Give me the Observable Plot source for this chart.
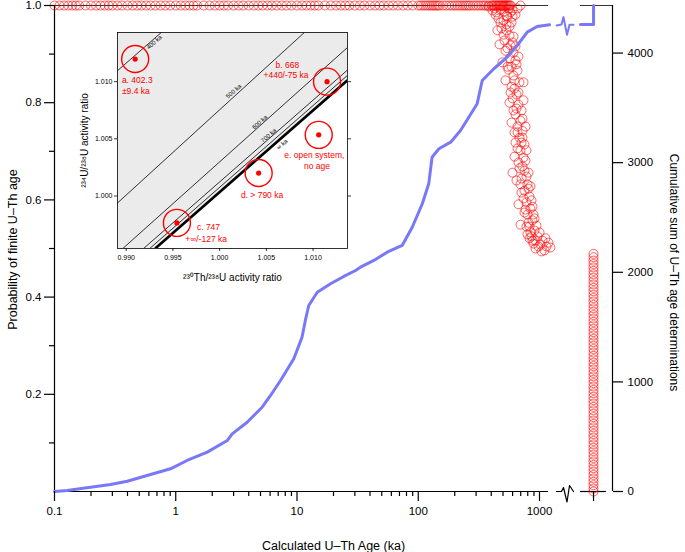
<!DOCTYPE html>
<html><head><meta charset="utf-8">
<script src="https://cdn.jsdelivr.net/npm/d3@7"></script>
<script src="https://cdn.jsdelivr.net/npm/@observablehq/plot@0.6"></script>
<style>
body{margin:0;background:#fff;}
#wrap{position:relative;width:685px;height:552px;overflow:hidden;background:#fff;}
#inset{position:absolute;left:69px;top:22px;}
</style></head><body><div id="wrap"><div id="inset"></div></div>
<script>
const FONT = "'Liberation Sans', Arial, Helvetica, sans-serif";
const RED = "#ff0000";
const BLUE = "#7878f8";

// ---- main chart data ----
// cumulative sum of finite U-Th ages (blue line)
const cumAge = [0.1, 0.127, 0.198, 0.29, 0.398, 0.58, 0.905, 1.24, 1.82, 2.66, 2.92, 3.88, 5.16, 6.05, 7.31, 9.41, 11.0, 11.8, 12.5, 14.7, 18.9, 24.3, 30.4, 33.4, 43.0, 55.4, 73.7, 89.2, 108, 122, 130, 148, 185, 223, 261, 306, 337, 420, 542, 655, 792, 957, 1209];
const cumCount = [0, 9, 39, 64, 94, 146, 207, 283, 359, 465, 526, 632, 769, 876, 1013, 1211, 1408, 1576, 1697, 1818, 1895, 1962, 2016, 2047, 2108, 2183, 2245, 2411, 2625, 2807, 3050, 3127, 3187, 3294, 3415, 3537, 3750, 3857, 3963, 4069, 4191, 4243, 4258];
const COUNT_MAX = 4434;          // top of right axis
const COUNT_FINITE = 4261;       // plateau before the break
const COUNT_TOTAL = 4434;        // including infinite ages

// positions on the broken log axis (ka)
const X_MIN = 0.1, X_MAX = 4000;
const BREAK_L = 1186, BREAK_R = 2178, AXIS_END = 3560, INF_POS = 2790;

// axis break squiggle (ka, probability offset)
const sqAge = [1381, 1519, 1577, 1686, 1768, 1907];
const sqAxisY = [0, 0, 0.0082, -0.0216, 0.0123, 0];
const sqBlueCount = [4252, 4261, 4328, 4167, 4258, 4258];

// red circles: probability of finite age
const topAges = [0.10,0.11,0.12,0.13,0.14,0.15,0.16,0.18,0.2,0.22,0.24,0.26,0.28,0.3,0.33,0.36,0.4,0.44,0.48,0.52,0.57,0.62,0.68,0.75,0.82,0.9,1.0,1.1,1.2,1.3,1.4,1.5,1.7,1.9,2.1,2.3,2.5,2.7,3.0,3.3,3.6,4.0,4.4,4.8,5.2,5.7,6.2,6.8,7.5,8.2,9.0,10,11,12,13,14,15,17,19,21,23,25,27,30,33,36,40,44,48,52,57,62,68,75,82,90,100,105,110,115,120,125,130,135,140,145,150,160,170,180,190,200,210,220,230,240,250,260,270,285,300,315,330,345,360,380,400,410,420,430,440,450,460,470,480,490,500,510,520,530,540,550,560,570,580];
const cloudAge = [410,442,477,514,555,599,634,459,505,545,588,486,534,566,514,599,545,610,566,634,588,659,610,684,622,738,646,599,671,711,634,697,659,724,684,752,697,738,671,599,752,711,796,752,827,781,843,796,876,827,909,859,927,1019,1186,1100,981,892,
  534,577,555,622,577,646,724,622,711,659,767,724,697,781,738,812,767,859,812,892,843,945,876,963,1059,1142,1039,671,505,599,
  477,566,450,610,468,524,634,495,545,646,524,588,671,566,610,738,588,659,767,634,724,622,781,684,646,812,711,843,671,752,876,781,909,827,1000,927,1121,1232,796,697,
  380,426,505,577,659,697,534,434];
const cloudProb = [0.990,0.986,0.992,0.988,0.994,0.990,0.981,0.973,0.969,0.977,0.965,0.953,0.949,0.938,0.928,0.924,0.912,0.903,0.891,0.887,0.874,0.866,0.856,0.842,0.829,0.842,0.817,0.809,0.796,0.784,0.776,0.763,0.751,0.742,0.728,0.714,0.702,0.687,0.677,0.656,0.660,0.644,0.632,0.619,0.607,0.595,0.582,0.570,0.558,0.545,0.537,0.525,0.516,0.508,0.512,0.496,0.504,0.510,
  0.961,0.918,0.868,0.846,0.821,0.788,0.767,0.739,0.718,0.706,0.681,0.669,0.632,0.648,0.603,0.623,0.580,0.599,0.553,0.570,0.533,0.547,0.516,0.525,0.516,0.504,0.494,0.895,0.940,0.977,
  0.965,0.957,0.949,0.936,0.920,0.907,0.916,0.883,0.874,0.879,0.846,0.833,0.821,0.800,0.784,0.805,0.759,0.739,0.751,0.718,0.728,0.689,0.702,0.665,0.640,0.656,0.615,0.628,0.591,0.574,0.586,0.545,0.562,0.521,0.533,0.500,0.521,0.502,0.529,0.549,
  0.998,0.994,0.998,0.986,0.994,1.000,0.979,0.981];
const infProb = [0.000,0.006,0.013,0.020,0.027,0.034,0.041,0.048,0.055,0.062,0.069,0.076,0.083,0.090,0.097,0.104,0.111,0.118,0.125,0.132,0.139,0.146,0.153,0.160,0.167,0.174,0.181,0.188,0.195,0.202,0.209,0.216,0.223,0.230,0.237,0.244,0.251,0.258,0.265,0.272,0.279,0.286,0.293,0.300,0.307,0.314,0.321,0.328,0.335,0.342,0.349,0.356,0.363,0.370,0.377,0.384,0.391,0.398,0.405,0.412,0.419,0.426,0.433,0.440,0.447,0.454,0.461,0.468,0.475,0.482,0.489];

// tick values
const xMajor = [0.1, 1, 10, 100, 1000];
const xMinor = [0.2,0.3,0.4,0.5,0.6,0.7,0.8,0.9,2,3,4,5,6,7,8,9,20,30,40,50,60,70,80,90,200,300,400,500,600,700,800,900];
const yMajor = [0.2, 0.4, 0.6, 0.8, 1.0];
const yMinor = [0.1, 0.3, 0.5, 0.7, 0.9];
const countTicks = [0, 1000, 2000, 3000, 4000];

// ---- inset data ----
const insetXTicks = [0.990, 0.995, 1.000, 1.005, 1.010];
const insetYTicks = [1.000, 1.005, 1.010];
const eqLineX = [0.98907, 1.01369];
const eqLineY = [0.99252, 1.01012];
const isoLabel = ["400 ka", "500 ka", "600 ka", "700 ka", "", "∞ ka"];
const isoX1 = [0.98907, 0.98907, 0.98964, 0.99186, 0.99252, 0.99311];
const isoY1 = [1.01096, 0.99939, 0.99541, 0.99541, 0.99541, 0.99541];
const isoX2 = [0.99375, 1.00907, 1.01369, 1.01369, 1.01369, 1.01369];
const isoY2 = [1.01430, 1.01430, 1.01299, 1.01102, 1.01055, 1.01012];
const isoWidth = [0.8, 0.8, 0.8, 0.8, 0.8, 2.6];
const isoLabX = [0.99300, 1.00150, 1.00429, 1.00525, 0, 1.00668];
const isoLabY = [1.01345, 1.00916, 1.00645, 1.00529, 0, 1.00451];
const sampleX = [0.99096, 1.01150, 0.99543, 1.00418, 1.01061];
const sampleY = [1.01198, 1.01000, 0.99765, 1.00201, 1.00535];
const noteText = ["a. 402.3", "±9.4 ka", "b. 668", "+440/-75 ka", "c. 747", "+∞/-127 ka", "d. > 790 ka", "e. open system,", "no age"];
const noteX = [0.98954, 0.98954, 1.00725, 1.00711, 0.99757, 0.99632, 1.00454, 1.01014, 1.01043];
const noteY = [1.01009, 1.00913, 1.01140, 1.01052, 0.99724, 0.99622, 1.00006, 1.00355, 1.00259];
const noteAnchor = ["start", "start", "middle", "middle", "start", "start", "middle", "middle", "middle"];

// ---- build main plot ----
const blue = cumAge.map((a, i) => ({age: a, c: cumCount[i]}));
const blueAfter = [{age: BREAK_R, c: COUNT_FINITE}, {age: INF_POS, c: COUNT_FINITE}, {age: INF_POS, c: COUNT_TOTAL}];
const sqAxis = sqAge.map((a, i) => ({age: a, p: sqAxisY[i]}));
const sqBlue = sqAge.map((a, i) => ({age: a, c: sqBlueCount[i]}));
const topDots = topAges.map(a => ({age: a, p: 1}));
const cloud = cloudAge.map((a, i) => ({age: a, p: cloudProb[i]}));
const infDots = infProb.map(p => ({age: INF_POS, p}));
const allRed = topDots.concat(cloud, infDots);

const main = Plot.plot({
  width: 685, height: 552,
  marginLeft: 54, marginRight: 73, marginTop: 5, marginBottom: 61,
  style: {fontFamily: FONT, fontSize: "11.5px", color: "black", background: "white", overflow: "visible"},
  x: {type: "log", domain: [X_MIN, X_MAX]},
  y: {domain: [0, 1]},
  marks: [
    // frame pieces
    Plot.ruleY([0], {x1: X_MIN, x2: BREAK_L, stroke: "black", strokeWidth: 1.2}),
    Plot.ruleY([0], {x1: BREAK_R, x2: AXIS_END, stroke: "black", strokeWidth: 1.2}),
    Plot.ruleY([1], {x1: X_MIN, x2: BREAK_L, stroke: "#333", strokeWidth: 1.2}),
    Plot.ruleY([1], {x1: BREAK_R, x2: X_MAX, stroke: "#333", strokeWidth: 1.2}),
    Plot.ruleX([X_MIN], {y1: 0, y2: 1, stroke: "black", strokeWidth: 1.2}),
    Plot.ruleX([X_MAX], {y1: 0, y2: 1, stroke: "black", strokeWidth: 1.2}),
    Plot.line(sqAxis, {x: "age", y: "p", stroke: "black", strokeWidth: 1.2}),
    // red circles
    Plot.dot(allRed, {x: "age", y: "p", r: 4.5, stroke: RED, strokeOpacity: 0.6, strokeWidth: 1, fill: "none"}),
    // blue cumulative line
    Plot.line(blue, {x: "age", y: d => d.c / COUNT_MAX, stroke: BLUE, strokeWidth: 3, strokeLinejoin: "round"}),
    Plot.line(sqBlue, {x: "age", y: d => d.c / COUNT_MAX, stroke: BLUE, strokeWidth: 2}),
    Plot.line(blueAfter, {x: "age", y: d => d.c / COUNT_MAX, stroke: BLUE, strokeWidth: 3}),
    // axes
    Plot.axisX({ticks: xMajor, tickSize: 10, tickPadding: 5, tickFormat: d => String(d), label: null, strokeWidth: 1.2}),
    Plot.axisX({ticks: xMinor, tickSize: 5, tickFormat: () => "", label: null, strokeWidth: 1.2}),
    Plot.axisX({ticks: [INF_POS], tickSize: 10, tickPadding: 3, tickFormat: () => "∞", label: null, fontSize: 19, fontWeight: "bold", strokeWidth: 1.2}),
    Plot.axisY({ticks: yMajor, tickSize: 10, tickPadding: 3, tickFormat: d3.format(".1f"), label: null, strokeWidth: 1.2}),
    Plot.axisY({ticks: yMinor, tickSize: 5, tickFormat: () => "", label: null, strokeWidth: 1.2}),
    Plot.axisY(countTicks.map(c => c / COUNT_MAX), {anchor: "right", tickSize: 10, tickPadding: 5, tickFormat: d => String(Math.round(d * COUNT_MAX)), label: null, strokeWidth: 1.2}),
    // titles
    Plot.text(["Probability of finite U–Th age"], {text: d => d, frameAnchor: "left", textAnchor: "middle", lineAnchor: "middle", dx: -42, dy: 1, rotate: -90, fontSize: 12.5}),
    Plot.text(["Cumulative sum of U–Th age determinations"], {text: d => d, frameAnchor: "right", textAnchor: "middle", lineAnchor: "middle", dx: 61, dy: 24, rotate: 90, fontSize: 12}),
    Plot.text(["Calculated U–Th Age (ka)"], {text: d => d, frameAnchor: "bottom", textAnchor: "middle", lineAnchor: "middle", dy: 54, fontSize: 12.5})
  ]
});
document.getElementById("wrap").insertBefore(main, document.getElementById("inset"));

// ---- build inset plot ----
const iso = isoLabel.map((l, i) => ({l, x1: isoX1[i], y1: isoY1[i], x2: isoX2[i], y2: isoY2[i], w: isoWidth[i], lx: isoLabX[i], ly: isoLabY[i]}));
const eq = eqLineX.map((x, i) => ({x, y: eqLineY[i]}));
const samples = sampleX.map((x, i) => ({x, y: sampleY[i]}));
const notes = noteText.map((t, i) => ({t, x: noteX[i], y: noteY[i], a: noteAnchor[i]}));
const Y_TOP = 1.01430;

const inset = Plot.plot({
  width: 288, height: 262,
  marginLeft: 48, marginRight: 10, marginTop: 10, marginBottom: 36,
  style: {fontFamily: FONT, fontSize: "7px", color: "black", background: "transparent", overflow: "visible"},
  x: {domain: [0.98907, 1.01369]},
  y: {domain: [0.99541, Y_TOP]},
  marks: [
    Plot.frame({fill: "white"}),
    Plot.areaY(eq, {x: "x", y1: "y", y2: () => Y_TOP + 0.001, fill: "#ebebeb", clip: true}),
    Plot.link(iso, {x1: "x1", y1: "y1", x2: "x2", y2: "y2", stroke: "black", strokeWidth: "w", clip: true}),
    Plot.text(iso.filter(d => d.l), {x: "lx", y: "ly", text: "l", rotate: -41, fontSize: 6, fill: "black"}),
    Plot.dot(samples, {x: "x", y: "y", r: 13.5, stroke: RED, strokeWidth: 1.4, fill: "none"}),
    Plot.dot(samples, {x: "x", y: "y", r: 2.6, fill: RED}),
    Plot.text(notes.filter(d => d.a === "start"), {x: "x", y: "y", text: "t", textAnchor: "start", fill: RED, fontSize: 8.5}),
    Plot.text(notes.filter(d => d.a === "middle"), {x: "x", y: "y", text: "t", textAnchor: "middle", fill: RED, fontSize: 8.5}),
    Plot.frame({stroke: "black", strokeWidth: 0.8}),
    Plot.axisX({ticks: insetXTicks, tickSize: 3, tickPadding: 4, tickFormat: d3.format(".3f"), label: null, strokeWidth: 0.8}),
    Plot.axisY({ticks: insetYTicks, tickSize: 3, tickPadding: 2, tickFormat: d3.format(".3f"), label: null, strokeWidth: 0.8}),
    Plot.axisY({ticks: insetYTicks, anchor: "right", tickSize: 3, tickFormat: () => "", label: null, strokeWidth: 0.8}),
    Plot.text(["\u00B2\u00B3\u2074U/\u00B2\u00B3\u2078U activity ratio"], {text: d => d, frameAnchor: "left", textAnchor: "middle", lineAnchor: "middle", dx: -33, rotate: -90, fontSize: 10}),
    Plot.text(["\u00B2\u00B3\u2070Th/\u00B2\u00B3\u2078U activity ratio"], {text: d => d, frameAnchor: "bottom", textAnchor: "middle", lineAnchor: "middle", dy: 29, fontSize: 10})
  ]
});
document.getElementById("inset").appendChild(inset);
</script>
</body></html>
